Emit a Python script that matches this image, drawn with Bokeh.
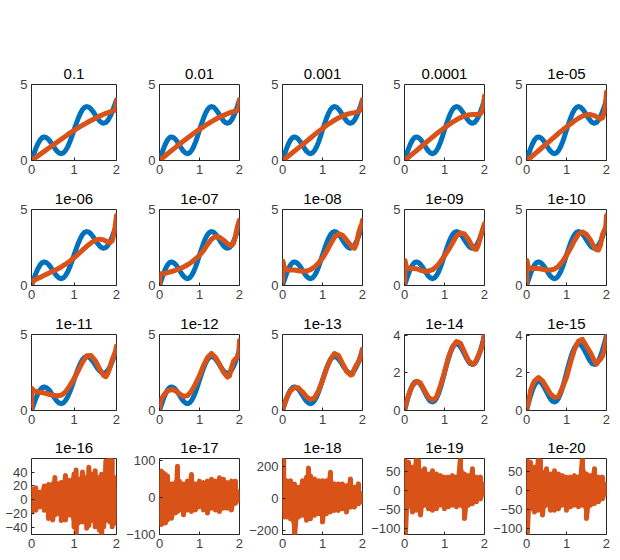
from bokeh.plotting import figure
from bokeh.layouts import gridplot
from bokeh.models import Range1d, FixedTicker
from bokeh.embed import file_html
from bokeh.resources import INLINE

BLUE = "#0072BD"
ORANGE = "#D95319"

TITLES = ["0.1", "0.01", "0.001", "0.0001", "1e-05",
          "1e-06", "1e-07", "1e-08", "1e-09", "1e-10",
          "1e-11", "1e-12", "1e-13", "1e-14", "1e-15",
          "1e-16", "1e-17", "1e-18", "1e-19", "1e-20"]

# underlying curve (blue)
X_TRUE = [0.00, 0.05, 0.10, 0.15, 0.20, 0.25, 0.30, 0.35, 0.40, 0.45, 0.50,
          0.55, 0.60, 0.65, 0.70, 0.75, 0.80, 0.85, 0.90, 0.95, 1.00,
          1.05, 1.10, 1.15, 1.20, 1.25, 1.30, 1.35, 1.40, 1.45, 1.50,
          1.55, 1.60, 1.65, 1.70, 1.75, 1.80, 1.85, 1.90, 1.95, 2.00]
Y_TRUE = [0.00, 0.40, 0.78, 1.10, 1.35, 1.50, 1.55, 1.51, 1.39, 1.21, 1.00,
          0.79, 0.61, 0.49, 0.45, 0.50, 0.65, 0.89, 1.21, 1.59, 2.00,
          2.40, 2.78, 3.10, 3.35, 3.50, 3.55, 3.51, 3.39, 3.21, 3.00,
          2.79, 2.61, 2.49, 2.45, 2.50, 2.65, 2.89, 3.21, 3.59, 4.00]

# fitted curves (orange), rows 1-3
X_FIT = [0.0, 0.01, 0.05, 0.1, 0.15, 0.2, 0.3, 0.4, 0.5, 0.6, 0.7, 0.8, 0.9, 1.0,
         1.1, 1.2, 1.3, 1.4, 1.5, 1.6, 1.7, 1.75, 1.8, 1.85, 1.9, 1.95, 1.98, 2.0]
FIT_1E1 = [0.0, 0.02, 0.1, 0.2, 0.3, 0.4, 0.6, 0.8, 1.0, 1.2, 1.4, 1.6, 1.8, 1.98,
           2.15, 2.32, 2.48, 2.63, 2.78, 2.92, 3.04, 3.1, 3.15, 3.2, 3.25, 3.3, 3.33, 3.95]
FIT_1E2 = [0.0, 0.02, 0.11, 0.22, 0.33, 0.44, 0.65, 0.86, 1.07, 1.28, 1.48, 1.68, 1.87, 2.05,
           2.23, 2.4, 2.56, 2.71, 2.85, 2.97, 3.08, 3.13, 3.18, 3.22, 3.26, 3.3, 3.35, 4.0]
FIT_1E3 = [0.0, 0.02, 0.1, 0.2, 0.3, 0.41, 0.62, 0.83, 1.04, 1.26, 1.48, 1.7, 1.91, 2.1,
           2.3, 2.48, 2.65, 2.8, 2.93, 3.03, 3.1, 3.13, 3.15, 3.18, 3.22, 3.35, 3.6, 4.0]
FIT_1E4 = [0.0, 0.02, 0.1, 0.21, 0.32, 0.43, 0.65, 0.87, 1.1, 1.32, 1.54, 1.76, 1.96, 2.15,
           2.34, 2.52, 2.68, 2.82, 2.93, 3.0, 3.03, 3.03, 3.03, 3.04, 3.08, 3.3, 3.75, 4.25]
FIT_1E5 = [0.0, 0.02, 0.1, 0.2, 0.3, 0.42, 0.64, 0.87, 1.1, 1.33, 1.56, 1.79, 2.0, 2.2,
           2.4, 2.6, 2.78, 2.92, 3.0, 3.02, 2.95, 2.88, 2.8, 2.75, 2.8, 3.2, 3.8, 4.5]
FIT_1E6 = [0.05, 0.25, 0.33, 0.4, 0.47, 0.53, 0.67, 0.8, 0.93, 1.07, 1.22, 1.4, 1.6, 1.82,
           2.07, 2.33, 2.58, 2.8, 2.97, 3.05, 3.0, 2.93, 2.85, 2.82, 2.95, 3.5, 4.1, 4.6]
FIT_1E7 = [0.0, 0.75, 0.77, 0.78, 0.8, 0.84, 0.92, 1.0, 1.1, 1.22, 1.36, 1.53, 1.75, 1.98,
           2.3, 2.7, 3.05, 3.22, 3.18, 2.98, 2.75, 2.66, 2.63, 2.78, 3.25, 3.9, 4.15, 4.3]
FIT_1E8 = [0.2, 1.6, 1.1, 1.05, 1.02, 1.02, 1.02, 0.97, 0.93, 0.95, 1.04, 1.22, 1.47, 1.8,
           2.23, 2.73, 3.18, 3.4, 3.32, 3.0, 2.66, 2.52, 2.45, 2.75, 3.4, 3.85, 4.0, 4.3]
FIT_1E9 = [0.0, 1.65, 1.2, 1.15, 1.12, 1.12, 1.1, 1.0, 0.93, 0.95, 1.04, 1.25, 1.58, 1.95,
           2.34, 2.8, 3.25, 3.46, 3.4, 3.03, 2.55, 2.4, 2.38, 2.7, 3.2, 3.65, 3.9, 4.07]
FIT_1E10 = [0.0, 1.65, 1.15, 1.12, 1.12, 1.13, 1.12, 1.06, 1.02, 1.02, 1.08, 1.27, 1.58, 1.98,
            2.45, 2.95, 3.38, 3.52, 3.36, 2.99, 2.5, 2.35, 2.34, 2.66, 3.35, 3.65, 3.8, 4.6]
FIT_1E11 = [0.0, 1.45, 1.3, 1.25, 1.22, 1.2, 1.15, 1.07, 1.0, 0.97, 1.0, 1.22, 1.62, 2.08,
            2.63, 3.18, 3.6, 3.62, 3.29, 2.74, 2.3, 2.22, 2.45, 2.85, 3.35, 3.7, 3.95, 4.25]
FIT_1E12 = [0.0, 0.4, 0.77, 0.99, 1.15, 1.28, 1.38, 1.3, 1.1, 0.93, 0.97, 1.28, 1.75, 2.3,
            2.95, 3.48, 3.75, 3.5, 3.05, 2.52, 2.2, 2.28, 2.8, 3.25, 3.4, 3.5, 3.6, 4.6]
FIT_1E13 = [0.0, 0.1, 0.45, 0.8, 1.08, 1.3, 1.52, 1.48, 1.22, 0.9, 0.72, 0.83, 1.3, 1.97,
            2.74, 3.38, 3.75, 3.62, 3.1, 2.6, 2.33, 2.38, 2.75, 3.0, 3.15, 3.45, 3.8, 4.05]
FIT_1E14 = [0.0, 0.1, 0.45, 0.8, 1.1, 1.33, 1.56, 1.46, 1.07, 0.71, 0.55, 0.71, 1.33, 2.04,
            2.84, 3.4, 3.68, 3.58, 3.12, 2.66, 2.46, 2.5, 2.7, 2.95, 3.2, 3.46, 3.8, 4.2]
FIT_1E15 = [0.0, 0.15, 0.44, 1.06, 1.35, 1.58, 1.76, 1.58, 1.23, 0.88, 0.7, 0.74, 1.23, 1.76,
            2.55, 3.26, 3.7, 3.79, 3.43, 3.08, 2.64, 2.47, 2.64, 2.73, 2.9, 3.26, 3.6, 3.96]

# noisy fits (row 4): upper / lower envelope of the oscillating line
N16_X = [0, 0.1, 0.2, 0.3, 0.4, 0.5, 0.55, 0.65, 0.7, 0.8, 0.9, 1.0, 1.05, 1.1, 1.2,
         1.3, 1.35, 1.45, 1.5, 1.6, 1.65, 1.7, 1.75, 1.8, 1.85, 1.9, 1.95, 2.0]
N16_HI = [16, 17, 11, 20, 22, 23, 32, 23, 25, 35, 28, 37, 43, 30, 40,
          32, 47, 37, 42, 32, 37, 28, 56, 62, 62, 61, 32, 16]
N16_LO = [-18, -15, -10, -15, -27, -29, -22, -20, -30, -29, -22, -39, -53, -34, -32,
          -41, -37, -30, -39, -44, -52, -39, -30, -25, -32, -39, -34, -8]

N17_X = [0, 0.05, 0.1, 0.15, 0.2, 0.3, 0.4, 0.45, 0.5, 0.6, 0.7, 0.8, 0.9, 1.0,
         1.1, 1.2, 1.3, 1.4, 1.5, 1.6, 1.7, 1.8, 1.9, 2.0]
N17_HI = [43, 70, 65, 61, 57, 35, 39, 83, 43, 35, 43, 61, 35, 43,
          39, 43, 48, 43, 52, 48, 39, 43, 43, 13]
N17_LO = [-52, -74, -65, -70, -61, -57, -43, -39, -35, -48, -35, -39, -35, -26,
          -35, -43, -30, -35, -39, -30, -30, -35, -17, -9]

N18_X = [0, 0.03, 0.1, 0.2, 0.3, 0.4, 0.5, 0.6, 0.65, 0.7, 0.8, 0.9, 1.0, 1.1,
         1.2, 1.3, 1.4, 1.5, 1.6, 1.7, 1.8, 1.9, 2.0]
N18_HI = [51, 260, 113, 113, 93, 72, 113, 134, 192, 144, 124, 113, 113, 113,
          165, 93, 93, 93, 82, 124, 72, 93, 31]
N18_LO = [-72, -113, -113, -124, -237, -113, -103, -134, -113, -124, -103, -93, -144, -93,
          -82, -72, -72, -62, -82, -51, -51, -31, -21]

N19_X = [0, 0.02, 0.1, 0.2, 0.3, 0.35, 0.4, 0.5, 0.6, 0.7, 0.8, 0.9, 1.0, 1.1,
         1.2, 1.3, 1.4, 1.5, 1.6, 1.7, 1.8, 1.9, 2.0]
N19_HI = [17, 78, 74, 61, 89, 78, 52, 57, 43, 52, 43, 39, 35, 35,
          39, 35, 87, 43, 39, 57, 35, 35, 17]
N19_LO = [-60, -122, -43, -57, -52, -43, -65, -39, -48, -52, -48, -39, -48, -43,
          -39, -43, -39, -74, -39, -35, -30, -22, -9]

N20_X = [0, 0.02, 0.1, 0.2, 0.3, 0.35, 0.4, 0.5, 0.6, 0.7, 0.8, 0.9, 1.0, 1.1,
         1.2, 1.3, 1.4, 1.5, 1.6, 1.7, 1.8, 1.9, 2.0]
N20_HI = [17, 78, 74, 61, 89, 78, 48, 57, 43, 52, 43, 39, 35, 35,
          39, 35, 87, 43, 39, 57, 35, 35, 17]
N20_LO = [-60, -116, -48, -57, -52, -43, -65, -39, -52, -52, -48, -39, -52, -43,
          -39, -43, -39, -74, -39, -35, -30, -22, -9]

SMOOTH = [FIT_1E1, FIT_1E2, FIT_1E3, FIT_1E4, FIT_1E5,
          FIT_1E6, FIT_1E7, FIT_1E8, FIT_1E9, FIT_1E10,
          FIT_1E11, FIT_1E12, FIT_1E13, FIT_1E14, FIT_1E15]
NOISY = [(N16_X, N16_HI, N16_LO), (N17_X, N17_HI, N17_LO), (N18_X, N18_HI, N18_LO),
         (N19_X, N19_HI, N19_LO), (N20_X, N20_HI, N20_LO)]

# axis limits and ticks
Y_LIMS = [(0, 5)] * 13 + [(0, 4.05), (0, 4.05),
                          (-50, 59.5), (-101, 104), (-222, 251), (-116, 84), (-116, 84)]
Y_TICKS = [[0, 5]] * 13 + [[0, 2, 4], [0, 2, 4],
                           [-40, -20, 0, 20, 40], [-100, 0, 100], [-200, 0, 200],
                           [-100, -50, 0, 50], [-100, -50, 0, 50]]
X_TICKS = [0, 1, 2]

# layout (pixels)
COL_W = [123, 123, 122, 122, 120]
COL_RIGHT = [7, 7, 6, 6, 4]
ROW_H = [182, 125, 125, 124]
ROW_TOP = [84, 27, 27, 26]
LEFT = 31
BOTTOM = 22

FONT = "Liberation Sans"
TXT = "#404040"

rows = []
for r in range(4):
    row = []
    for c in range(5):
        k = r * 5 + c
        lo, hi = Y_LIMS[k]
        pad = (hi - lo) * 0.0004
        p = figure(width=COL_W[c], height=ROW_H[r], output_backend="svg",
                   toolbar_location=None, tools="",
                   min_border_left=LEFT, min_border_right=COL_RIGHT[c],
                   min_border_top=ROW_TOP[r], min_border_bottom=BOTTOM,
                   x_range=Range1d(-0.0008, 2.0008), y_range=Range1d(lo - pad, hi + pad),
                   title=TITLES[k])
        p.title.align = "center"
        p.title.text_font = FONT
        p.title.text_font_size = "15px"
        p.title.text_font_style = "normal"
        p.title.text_color = "#000000"
        p.title.standoff = 11
        p.grid.visible = False
        p.background_fill_color = "white"
        p.border_fill_color = "white"
        p.outline_line_color = "#262626"
        p.outline_line_width = 1
        p.outline_line_alpha = 1
        for ax in (p.xaxis[0], p.yaxis[0]):
            ax.axis_line_color = None
            ax.major_tick_in = 3
            ax.major_tick_out = 0
            ax.major_tick_line_color = "#262626"
            ax.minor_tick_line_color = None
            ax.major_label_text_font = FONT
            ax.major_label_text_font_size = "13px"
            ax.major_label_text_color = TXT
            ax.major_label_standoff = 4
        p.xaxis.ticker = FixedTicker(ticks=X_TICKS)
        p.yaxis.ticker = FixedTicker(ticks=Y_TICKS[k])

        if k < 15:
            p.line(X_TRUE, Y_TRUE, line_color=BLUE, line_width=5,
                   line_join="round", line_cap="round")
            p.line(X_FIT, SMOOTH[k], line_color=ORANGE, line_width=5,
                   line_join="round", line_cap="round")
        else:
            nx, nhi, nlo = NOISY[k - 15]
            p.varea(x=nx, y1=nlo, y2=nhi, fill_color=ORANGE)
            xs, ys = [], []
            for xv, hv, lv in zip(nx, nhi, nlo):
                xs += [xv, xv]
                ys += [hv, lv]
            p.line(xs, ys, line_color=ORANGE, line_width=5,
                   line_join="round", line_cap="round")
        row.append(p)
    rows.append(row)

grid = gridplot(rows, toolbar_location=None)
open("out.html", "w").write(file_html(grid, INLINE))
